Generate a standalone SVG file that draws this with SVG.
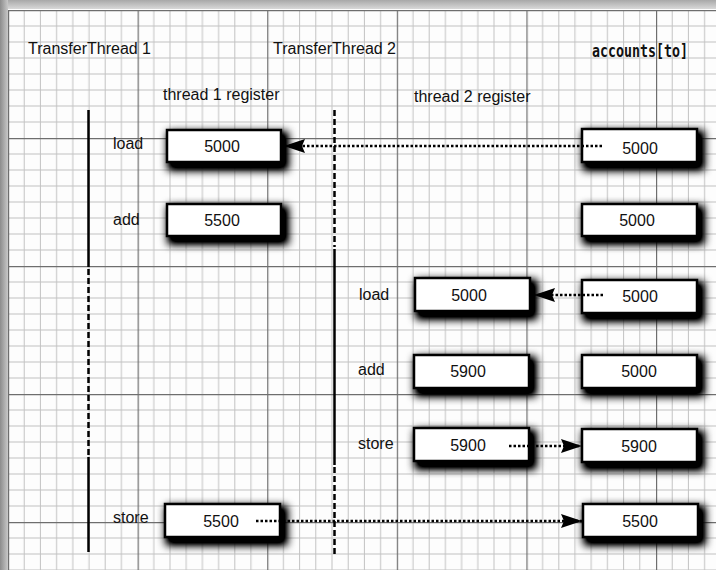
<svg xmlns="http://www.w3.org/2000/svg" width="716" height="570" viewBox="0 0 716 570">
  <defs>
    <pattern id="grid" patternUnits="userSpaceOnUse" x="8" y="10" width="129.6" height="128">
      <g stroke="#c2c2c2" stroke-width="1" fill="none">
        <path d="M16.2 0V128M32.4 0V128M48.6 0V128M64.8 0V128M81 0V128M97.2 0V128M113.4 0V128"/>
        <path d="M0 16H129.6M0 32H129.6M0 48H129.6M0 64H129.6M0 80H129.6M0 96H129.6M0 112H129.6"/>
      </g>
      <g stroke="#6e6e6e" stroke-width="1.2" fill="none">
        <path d="M0.6 0V128M0 0.6H129.6"/>
      </g>
    </pattern>
    <linearGradient id="topband" x1="0" y1="0" x2="0" y2="1">
      <stop offset="0" stop-color="#a8a8a8"/>
      <stop offset="1" stop-color="#d8d8d8"/>
    </linearGradient>
    <linearGradient id="leftband" x1="0" y1="0" x2="1" y2="0">
      <stop offset="0" stop-color="#8c8c8c"/>
      <stop offset="1" stop-color="#c8c8c8"/>
    </linearGradient>
    <filter id="shadow" x="-25%" y="-60%" width="160%" height="240%">
      <feMorphology in="SourceAlpha" operator="dilate" radius="1.5" result="d"/>
      <feGaussianBlur in="d" stdDeviation="4" result="b"/>
      <feOffset in="b" dx="4" dy="5" result="o"/>
      <feComponentTransfer in="o" result="s">
        <feFuncA type="linear" slope="1.4"/>
      </feComponentTransfer>
      <feMerge>
        <feMergeNode in="s"/>
        <feMergeNode in="SourceGraphic"/>
      </feMerge>
    </filter>
    <marker id="arrow" markerUnits="userSpaceOnUse" markerWidth="22" markerHeight="16" refX="21" refY="8" orient="auto">
      <path d="M0 1 L21 8 L0 15 L3 8 Z" fill="#000"/>
    </marker>
    <style>
      .lbl { font-family: "Liberation Sans", Arial, Helvetica, sans-serif; font-size: 16px; fill: #111; }
      .num { font-family: "Liberation Sans", Arial, Helvetica, sans-serif; font-size: 16px; fill: #111; text-anchor: middle; }
      .code { font-family: "DejaVu Sans Mono", "Liberation Mono", monospace; font-size: 18px; font-weight: bold; fill: #111; }
      .box { fill: #fff; stroke: #000; stroke-width: 2.5; filter: url(#shadow); }
      .life { stroke: #000; stroke-width: 2.5; fill: none; }
      .dash { stroke: #000; stroke-width: 2.5; fill: none; stroke-dasharray: 6 3; }
      .dot { stroke: #000; stroke-width: 2.5; fill: none; stroke-dasharray: 2.5 2; marker-end: url(#arrow); }
    </style>
  </defs>

  <rect x="0" y="0" width="716" height="570" fill="#fdfdfd"/>
  <rect x="8" y="10" width="708" height="560" fill="url(#grid)"/>
  <rect x="0" y="0" width="716" height="9" fill="url(#topband)"/>
  <rect x="0" y="0" width="8" height="570" fill="url(#leftband)"/>

  <g id="headers">
    <text class="lbl" x="28" y="54">TransferThread 1</text>
    <text class="lbl" x="273" y="54">TransferThread 2</text>
    <text class="code" x="592" y="57" textLength="96" lengthAdjust="spacingAndGlyphs">accounts[to]</text>
    <text class="lbl" x="163" y="100">thread 1 register</text>
    <text class="lbl" x="414" y="102">thread 2 register</text>
  </g>

  <g id="lifelines">
    <path class="life" d="M88.5 110V267"/>
    <path class="dash" d="M88.5 269V455"/>
    <path class="life" d="M88.5 457V552"/>
    <path class="dash" d="M334.5 110V247"/>
    <path class="life" d="M334.5 249V465"/>
    <path class="dash" d="M334.5 467V557"/>
  </g>

  <g id="labels">
    <text class="lbl" x="113" y="149">load</text>
    <text class="lbl" x="113" y="225">add</text>
    <text class="lbl" x="359" y="300">load</text>
    <text class="lbl" x="358" y="375">add</text>
    <text class="lbl" x="358" y="449">store</text>
    <text class="lbl" x="113" y="523">store</text>
  </g>

  <g id="t1-load">
    <rect class="box" x="167" y="130" width="114" height="32"/>
    <text class="num" x="222" y="152">5000</text>
  </g>
  <g id="t1-add">
    <rect class="box" x="167" y="204" width="114" height="32"/>
    <text class="num" x="222" y="226">5500</text>
  </g>
  <g id="t1-store">
    <rect class="box" x="165" y="504" width="115" height="33"/>
    <text class="num" x="221" y="527">5500</text>
  </g>

  <g id="t2-load">
    <rect class="box" x="415" y="278" width="115" height="33"/>
    <text class="num" x="469" y="301">5000</text>
  </g>
  <g id="t2-add">
    <rect class="box" x="414" y="355" width="115" height="33"/>
    <text class="num" x="468" y="377">5900</text>
  </g>
  <g id="t2-store">
    <rect class="box" x="414" y="428" width="115" height="33"/>
    <text class="num" x="468" y="451">5900</text>
  </g>

  <g id="acc-1">
    <rect class="box" x="582" y="129" width="115" height="33"/>
    <text class="num" x="640" y="154">5000</text>
  </g>
  <g id="acc-2">
    <rect class="box" x="582" y="204" width="115" height="32"/>
    <text class="num" x="637" y="226">5000</text>
  </g>
  <g id="acc-3">
    <rect class="box" x="582" y="280" width="115" height="33"/>
    <text class="num" x="640" y="302">5000</text>
  </g>
  <g id="acc-4">
    <rect class="box" x="582" y="355" width="115" height="33"/>
    <text class="num" x="639" y="377">5000</text>
  </g>
  <g id="acc-5">
    <rect class="box" x="582" y="429" width="115" height="33"/>
    <text class="num" x="639" y="452">5900</text>
  </g>
  <g id="acc-6">
    <rect class="box" x="583" y="504" width="115" height="33"/>
    <text class="num" x="640" y="527">5500</text>
  </g>

  <g id="connectors">
    <path class="dot" d="M602 146H284"/>
    <path class="dot" d="M603 295H534"/>
    <path class="dot" d="M509 446H582"/>
    <path class="dot" d="M256 521H582"/>
  </g>
</svg>
